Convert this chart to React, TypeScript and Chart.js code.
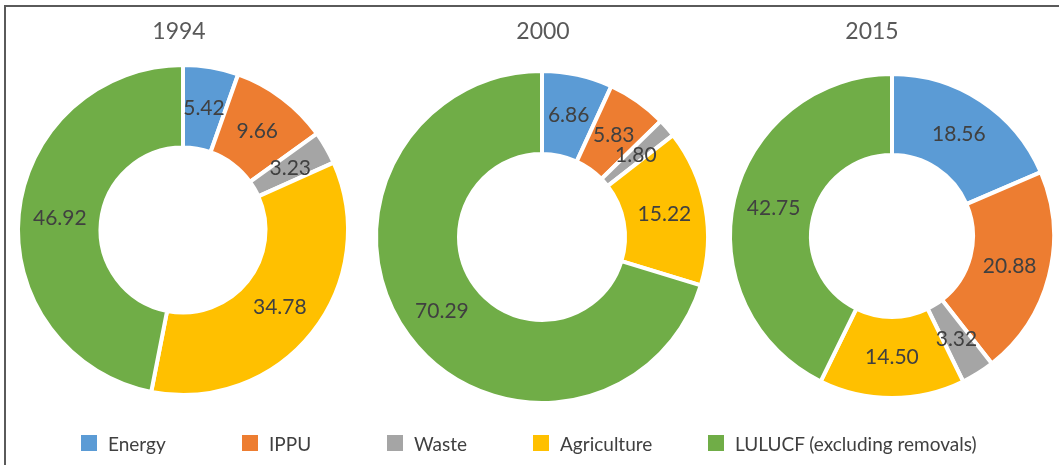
import React, { useEffect, useRef } from "react";
import { Chart, registerables } from "chart.js";

Chart.register(...registerables);

// ---------- data ----------
const categories = ["Energy", "IPPU", "Waste", "Agriculture", "LULUCF (excluding removals)"];
const years = ["1994", "2000", "2015"];
const values1994 = [5.42, 9.66, 3.23, 34.78, 46.92];
const values2000 = [6.86, 5.83, 1.8, 15.22, 70.29];
const values2015 = [18.56, 20.88, 3.32, 14.5, 42.75];
const seriesByYear = [values1994, values2000, values2015];
const colors = ["#5B9BD5", "#ED7D31", "#A5A5A5", "#FFC000", "#70AD47"];

// ---------- layout ----------
const W = 1059;
const H = 465;
const BORDER = 4;
const layouts = [
  { cx: 183, cy: 230, r: 163, titleX: 179, titleY: 32 },
  { cx: 542, cy: 237, r: 164, titleX: 543, titleY: 32 },
  { cx: 892, cy: 236, r: 160, titleX: 872, titleY: 32 },
];
const legendBoxX = [81, 242, 387, 533, 708];
const FONT = "Lato, 'Open Sans', sans-serif";

const sliceLabels = {
  id: "sliceLabels",
  afterDatasetsDraw(chart: any) {
    const ctx = chart.ctx;
    const meta = chart.getDatasetMeta(0);
    const data = chart.data.datasets[0].data as number[];
    ctx.save();
    ctx.font = `21px ${FONT}`;
    ctx.fillStyle = "#404040";
    ctx.textAlign = "center";
    ctx.textBaseline = "middle";
    meta.data.forEach((arc: any, i: number) => {
      const p = arc.getProps(["x", "y", "startAngle", "endAngle", "innerRadius", "outerRadius"], true);
      const a = (p.startAngle + p.endAngle) / 2;
      const rr = (p.innerRadius + p.outerRadius) / 2;
      ctx.fillText(data[i].toFixed(2), p.x + Math.cos(a) * rr, p.y + Math.sin(a) * rr);
    });
    ctx.restore();
  },
};

const yearTitle = {
  id: "yearTitle",
  afterDraw(chart: any) {
    const o = chart.options.plugins.yearTitle;
    if (!o) return;
    const ctx = chart.ctx;
    ctx.save();
    ctx.font = `23px ${FONT}`;
    ctx.fillStyle = "#595959";
    ctx.textAlign = "center";
    ctx.textBaseline = "middle";
    ctx.fillText(o.text, o.x, o.y);
    ctx.restore();
  },
};

function Donut({ idx }: { idx: number }) {
  const ref = useRef<HTMLCanvasElement | null>(null);
  useEffect(() => {
    if (!ref.current) return;
    const L = layouts[idx];
    const half = L.r + BORDER;
    const chart = new Chart(ref.current, {
      type: "doughnut",
      data: {
        labels: categories,
        datasets: [
          {
            data: seriesByYear[idx],
            backgroundColor: colors,
            borderColor: "#ffffff",
            borderWidth: BORDER,
          },
        ],
      },
      options: {
        responsive: false,
        animation: false,
        cutout: "50%",
        layout: {
          padding: {
            left: L.cx - half,
            right: W - (L.cx + half),
            top: L.cy - half,
            bottom: H - (L.cy + half),
          },
        },
        plugins: {
          legend: { display: false },
          tooltip: { enabled: false },
          title: { display: false },
          // @ts-ignore
          yearTitle: { text: years[idx], x: L.titleX, y: L.titleY },
        },
        events: [],
      },
      plugins: [sliceLabels, yearTitle],
    } as any);
    return () => chart.destroy();
  }, [idx]);
  return (
    <canvas
      ref={ref}
      width={W}
      height={H}
      style={{ position: "absolute", left: 0, top: 0, width: W, height: H }}
    />
  );
}

export default function App() {
  return (
    <div
      style={{
        position: "absolute",
        left: 0,
        top: 0,
        width: W,
        height: H,
        background: "#ffffff",
        overflow: "hidden",
        fontFamily: FONT,
      }}
    >
      <div
        style={{
          position: "absolute",
          left: 4,
          top: 5,
          width: W,
          height: H,
          borderLeft: "2px solid #5a5a5a",
          borderTop: "2px solid #5a5a5a",
        }}
      />
      {years.map((_, i) => (
        <Donut key={i} idx={i} />
      ))}
      {categories.map((c, i) => (
        <div
          key={c}
          style={{
            position: "absolute",
            left: legendBoxX[i],
            top: 431,
            height: 24,
            display: "flex",
            alignItems: "center",
            whiteSpace: "nowrap",
            fontSize: 19,
            color: "#404040",
          }}
        >
          <span
            style={{
              display: "inline-block",
              width: 16,
              height: 16,
              background: colors[i],
              marginRight: 11,
            }}
          />
          {c}
        </div>
      ))}
    </div>
  );
}
